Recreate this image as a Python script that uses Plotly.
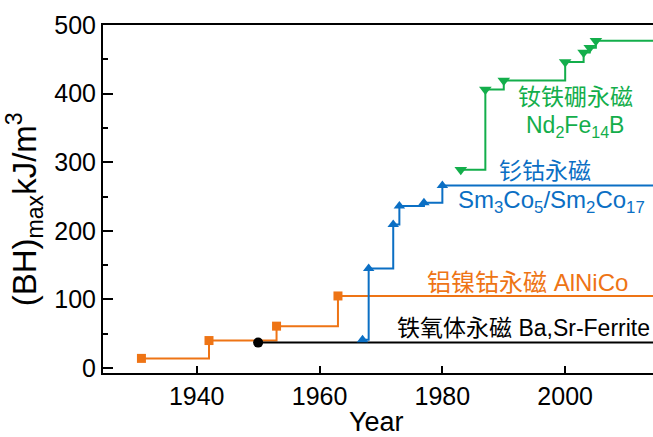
import plotly.graph_objects as go

# ---- data ----
x_end = 2030  # final level runs off the right edge

ferrite_years = [1950]
ferrite_vals = [37]

alnico_years = [1931, 1942, 1953, 1963]
alnico_vals = [14, 40, 61, 105]

smco_years = [1967, 1968, 1972, 1973, 1977, 1980]
smco_vals = [41, 145, 209, 236, 241, 266]

ndfeb_years = [1983, 1987, 1990, 2000, 2003, 2004, 2005]
ndfeb_vals = [289, 406, 419, 446, 460, 467, 477]

x_ticks = [1940, 1960, 1980, 2000]
y_ticks = [0, 100, 200, 300, 400, 500]

GREEN = "#13AE4B"
BLUE = "#0B6FC4"
ORANGE = "#EE7415"
BLACK = "#000000"

FONT = "Liberation Sans, Arial, Noto Sans CJK SC, sans-serif"

series = [
    (alnico_years, alnico_vals, ORANGE, "square", 9),
    (ferrite_years, ferrite_vals, BLACK, "circle", 10),
    (smco_years, smco_vals, BLUE, "triangle-up", 10),
    (ndfeb_years, ndfeb_vals, GREEN, "triangle-down", 11),
]

fig = go.Figure()
for yrs, vals, col, sym, sz in series:
    fig.add_trace(go.Scatter(
        x=yrs + [x_end], y=vals + [vals[-1]],
        mode="lines", line=dict(color=col, width=2, shape="hv"),
        hoverinfo="skip", showlegend=False))
for yrs, vals, col, sym, sz in series:
    fig.add_trace(go.Scatter(
        x=yrs, y=vals, mode="markers",
        marker=dict(symbol=sym, size=sz, color=col, line=dict(width=0)),
        showlegend=False))

annotations = [
    dict(x=2001.6, y=395, text="钕铁硼永磁", xanchor="center", color=GREEN, size=23),
    dict(x=2001.6, y=352, text="Nd<sub>2</sub>Fe<sub>14</sub>B", xanchor="center", color=GREEN, size=23),
    dict(x=1996.7, y=287, text="钐钴永磁", xanchor="center", color=BLUE, size=23),
    dict(x=1982.2, y=243, text="Sm<sub>3</sub>Co<sub>5</sub>/Sm<sub>2</sub>Co<sub>17</sub>", xanchor="left", color=BLUE, size=24),
    dict(x=1977.2, y=125, text="铝镍钴永磁 AlNiCo", xanchor="left", color=ORANGE, size=24),
    dict(x=1972.3, y=58, text="铁氧体永磁 Ba,Sr-Ferrite", xanchor="left", color=BLACK, size=23),
]
for a in annotations:
    col = a.pop("color")
    sz = a.pop("size")
    a.update(xref="x", yref="y", showarrow=False, yanchor="middle",
             font=dict(family=FONT, size=sz, color=col))

# axis titles placed as paper annotations
annotations += [
    dict(xref="paper", yref="paper", x=0.498, y=-0.14, text="Year",
         showarrow=False, xanchor="center", yanchor="middle",
         font=dict(family=FONT, size=27, color="black")),
    dict(xref="paper", yref="paper", x=-0.142, y=0.47,
         text="(BH)<sub>max</sub>kJ/m<sup>3</sup>", textangle=-90,
         showarrow=False, xanchor="center", yanchor="middle",
         font=dict(family=FONT, size=33, color="black")),
]

fig.update_layout(
    width=653, height=437,
    margin=dict(l=103, r=0, t=25, b=64),
    plot_bgcolor="white", paper_bgcolor="white",
    font=dict(family=FONT, size=25, color="black"),
    annotations=annotations,
    xaxis=dict(
        range=[1924.74, 2014.3], tickvals=x_ticks, ticks="inside", ticklen=7,
        tickwidth=2, tickcolor="black", showline=True, linewidth=2, linecolor="black",
        mirror=True, showgrid=False, zeroline=False, tickfont=dict(size=25),
    ),
    yaxis=dict(
        range=[-7.3, 500], tickvals=y_ticks, ticks="inside", ticklen=10,
        tickwidth=2, tickcolor="black", showline=True, linewidth=2, linecolor="black",
        showgrid=False, zeroline=False, tickfont=dict(size=25),
        minor=dict(dtick=50, ticks="inside", ticklen=5, tickwidth=2, tickcolor="black"),
    ),
)

fig.write_html("out.html", config={"displayModeBar": False},
               post_script="document.body.style.margin='0';")
